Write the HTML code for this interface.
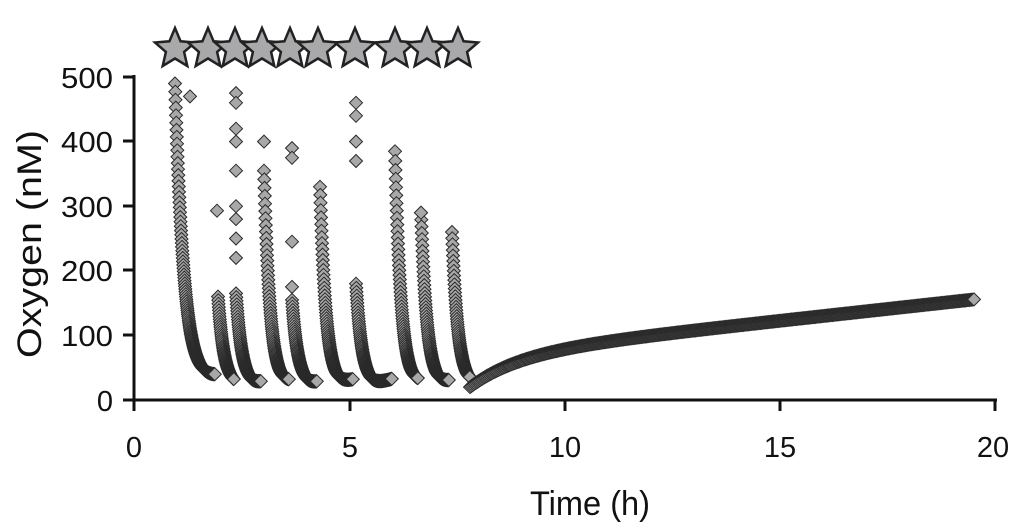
<!DOCTYPE html>
<html><head><meta charset="utf-8"><style>
body{margin:0;background:#fff}
svg{display:block;font-family:"Liberation Sans",sans-serif}
.t{font-size:29px;fill:#111}
</style></head><body>
<svg id="s" width="1024" height="523" xmlns="http://www.w3.org/2000/svg">
<defs><path id="d" d="M0,-6.5L6.5,0L0,6.5L-6.5,0Z" fill="#a8a8a8" stroke="#2a2a2a" stroke-width="1"/>
<polygon id="st" points="0,-21 5.6,-7.7 20,-6.5 9.1,2.9 12.3,17 0,9.5 -12.3,17 -9.1,2.9 -20,-6.5 -5.6,-7.7" fill="#a9a9ab" stroke="#222" stroke-width="2.5"/></defs>
<g id="pts"></g>
<g stroke="#111" stroke-width="3" fill="none">
<line x1="134" y1="75" x2="134" y2="411"/>
<line x1="132" y1="400" x2="997" y2="400"/>
<line x1="123" y1="77" x2="134" y2="77"/><line x1="123" y1="141" x2="134" y2="141"/>
<line x1="123" y1="206" x2="134" y2="206"/><line x1="123" y1="270" x2="134" y2="270"/>
<line x1="123" y1="335" x2="134" y2="335"/><line x1="123" y1="400" x2="134" y2="400"/>
<line x1="350" y1="400" x2="350" y2="411"/><line x1="565" y1="400" x2="565" y2="411"/>
<line x1="780" y1="400" x2="780" y2="411"/><line x1="995" y1="400" x2="995" y2="411"/>
</g>
<g text-anchor="end">
<text class="t" x="113" y="88" textLength="52" lengthAdjust="spacingAndGlyphs">500</text><text class="t" x="113" y="152" textLength="52" lengthAdjust="spacingAndGlyphs">400</text><text class="t" x="113" y="217" textLength="52" lengthAdjust="spacingAndGlyphs">300</text>
<text class="t" x="113" y="281" textLength="52" lengthAdjust="spacingAndGlyphs">200</text><text class="t" x="113" y="346" textLength="52" lengthAdjust="spacingAndGlyphs">100</text><text class="t" x="113" y="411">0</text>
</g>
<g text-anchor="middle">
<text class="t" x="134" y="457">0</text><text class="t" x="350" y="457">5</text><text class="t" x="565" y="457">10</text>
<text class="t" x="780" y="457">15</text><text class="t" x="993" y="457">20</text>
</g>
<text x="530" y="515" style="font-size:34px;fill:#111" textLength="120" lengthAdjust="spacingAndGlyphs">Time (h)</text>
<text transform="translate(41,358) rotate(-90)" style="font-size:34px;fill:#111" textLength="228" lengthAdjust="spacingAndGlyphs">Oxygen (nM)</text>
<g id="stars"></g>
</svg>
<script>
var ns="http://www.w3.org/2000/svg";
function Y(v){return 400-v*0.646;}
var g=document.getElementById('pts');
function add(x,v){var u=document.createElementNS(ns,'use');u.setAttribute('href','#d');u.setAttribute('x',x.toFixed(1));u.setAttribute('y',Y(v).toFixed(1));g.appendChild(u);}
var peaks=[[175,490],[218,160],[236,165],[264,355],[292,155],[320,330],[356,180],[395,385],[421,290],[452,260]];
var ends=[215,234,261,289,317,353,392,418,449,470];
for(var i=0;i<peaks.length;i++){
 var xp=peaks[i][0],pv=peaks[i][1],xe=ends[i];
 for(var x=xp;x<xe;x+=0.25){
  var d=x-xp;var tr=22+0.5*Math.max(0,d-15);
  var v=tr+(pv-tr)*Math.exp(-d/(i==0?9:6));
  add(x,v);
 }
}
[[190,470],[236,475],[236,460],[236,420],[236,400],[236,355],[236,300],[236,280],[236,250],[236,220],[217,293],[264,400],[292,390],[292,375],[292,245],[292,175],[356,460],[356,440],[356,400],[356,370],[421,290]].forEach(function(p){add(p[0],p[1]);});
for(var x=470;x<=975;x+=1.2){var t=x-470;var v=20+50*(1-Math.exp(-t/50))+0.17*t;add(x,v);}
var sx=[175,208,235,262,290,318,355,395,427,458],sg=document.getElementById('stars');
sx.forEach(function(x){var u=document.createElementNS(ns,'use');u.setAttribute('href','#st');u.setAttribute('x',x);u.setAttribute('y',49);sg.appendChild(u);});
</script>
</body></html>
